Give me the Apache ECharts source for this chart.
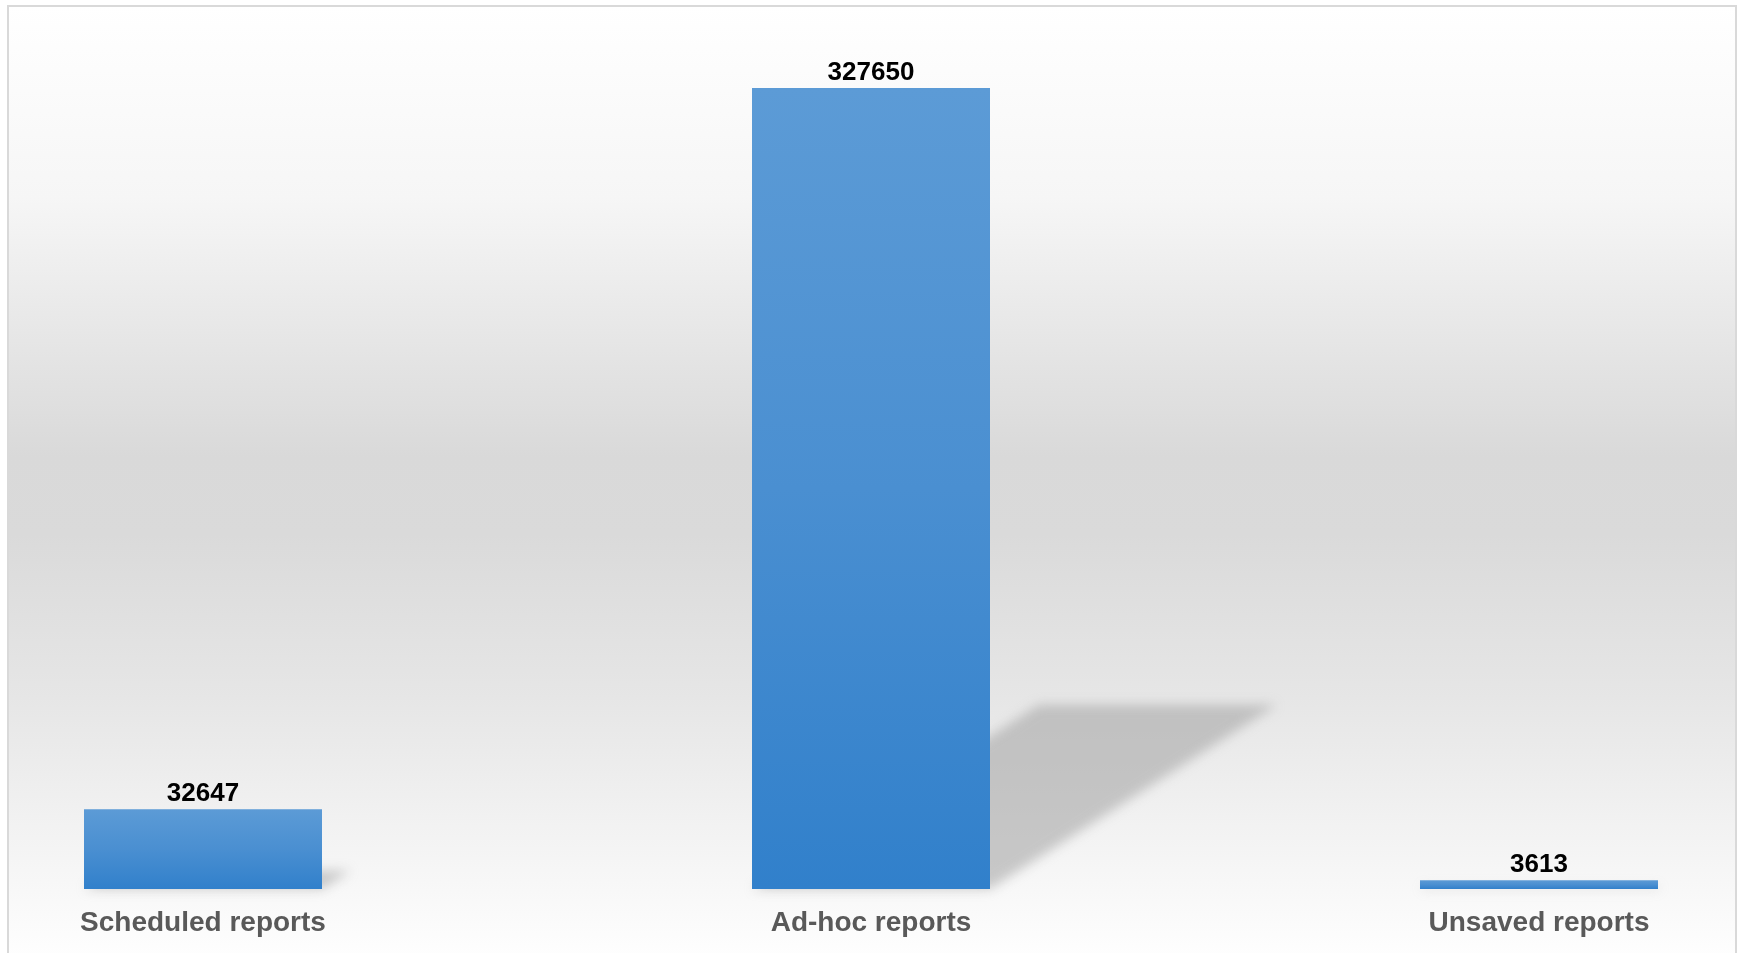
<!DOCTYPE html>
<html>
<head>
<meta charset="utf-8">
<style>
  html, body { margin: 0; padding: 0; background: #ffffff; }
  #chart { width: 1741px; height: 953px; }
</style>
<script src="https://cdn.jsdelivr.net/npm/echarts@6/dist/echarts.min.js"></script>
</head>
<body>
<div id="chart"></div>
<script>
const categories = ['Scheduled reports', 'Ad-hoc reports', 'Unsaved reports'];
const reportCounts = [32647, 327650, 3613];

const BAR_W = 238;
const SHIFT = 4000;
const chart = echarts.init(document.getElementById('chart'));

function shadowItem(params, api) {
  const c = api.value(0);
  const v = api.value(1);
  const top = api.coord([c, v]);
  const base = api.coord([c, 0]);
  const h = base[1] - top[1];
  const x0 = base[0] - BAR_W / 2 + SHIFT;
  const x1 = base[0] + BAR_W / 2 + SHIFT;
  const dx = h * 0.358;
  const dy = h * 0.23;
  return {
    type: 'polygon',
    shape: { points: [[x0, base[1]], [x1, base[1]], [x1 + dx, base[1] - dy], [x0 + dx, base[1] - dy]] },
    style: {
      fill: '#999999',
      shadowBlur: 12,
      shadowOffsetX: -SHIFT,
      shadowOffsetY: 0,
      shadowColor: 'rgba(160,160,160,0.55)'
    },
    silent: true
  };
}

chart.setOption({
  animation: false,
  graphic: [{
    type: 'rect',
    left: 7, top: 5, z: -10,
    shape: { width: 1728, height: 960 },
    style: {
      stroke: '#d9d9d9', lineWidth: 2,
      fill: new echarts.graphic.LinearGradient(0, 0, 0, 1, [
        { offset: 0, color: '#ffffff' },
        { offset: 0.2, color: '#f6f6f6' },
        { offset: 0.47, color: '#d9d9d9' },
        { offset: 0.55, color: '#dadada' },
        { offset: 0.72, color: '#e6e6e6' },
        { offset: 1, color: '#ffffff' }
      ])
    }
  }],
  grid: { left: 203, right: 202, top: 88, bottom: 64, containLabel: false, outerBoundsMode: 'none' },
  xAxis: {
    type: 'category',
    data: categories,
    boundaryGap: false,
    axisLine: { show: false },
    axisTick: { show: false },
    axisLabel: {
      interval: 0, margin: 20,
      color: '#595959', fontSize: 28, fontWeight: 'bold',
      fontFamily: 'Liberation Sans, Arial, sans-serif'
    },
    splitLine: { show: false }
  },
  yAxis: {
    type: 'value', min: 0, max: 'dataMax', show: false,
    splitLine: { show: false }
  },
  series: [
    {
      type: 'custom',
      z: 1,
      clip: false,
      data: reportCounts.map((v, i) => [i, v]),
      renderItem: shadowItem,
      silent: true
    },
    {
      type: 'bar',
      z: 2,
      data: reportCounts,
      barWidth: BAR_W,
      itemStyle: {
        color: new echarts.graphic.LinearGradient(0, 0, 0, 1, [
          { offset: 0, color: '#5c9bd6' },
          { offset: 0.5, color: '#4a8fd1' },
          { offset: 1, color: '#3180cb' }
        ])
      },
      label: {
        show: true, position: 'top', distance: 2,
        color: '#000000', fontSize: 26, fontWeight: 'bold',
        fontFamily: 'Liberation Sans, Arial, sans-serif'
      }
    }
  ]
});
</script>
</body>
</html>
